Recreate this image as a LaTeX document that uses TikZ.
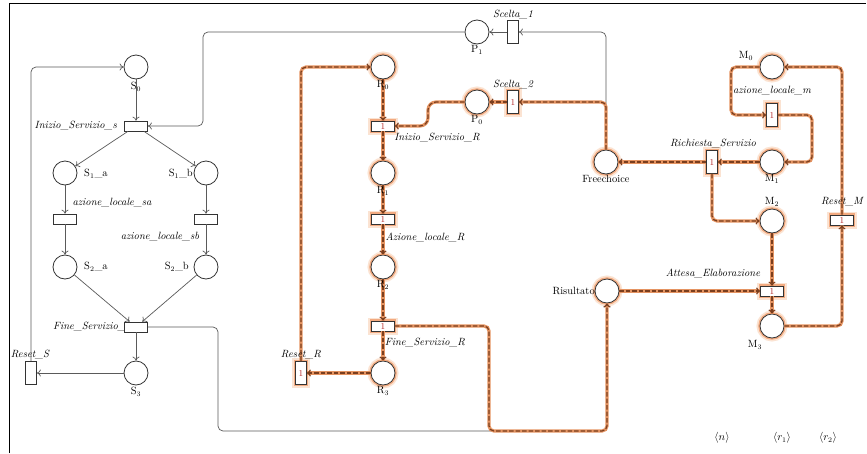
\documentclass[tikz,border=0pt]{standalone}
\usetikzlibrary{arrows.meta}
\definecolor{lineG}{HTML}{5A5A5A}
\definecolor{arcOr}{HTML}{E59462}
\definecolor{arcBr}{HTML}{7A3E1E}
\definecolor{glowA}{HTML}{FBE3D2}
\definecolor{glowB}{HTML}{F2AA80}
\definecolor{tokR}{HTML}{B02020}
\tikzset{
 every node/.style={font=\fontsize{10.5}{12}\selectfont},
 place/.style={circle, draw=black!80, line width=0.8pt, fill=white, minimum size=24pt, inner sep=0pt},
 trans/.style={rectangle, draw=black!80, line width=0.7pt, fill=white, minimum width=23pt, minimum height=10pt, inner sep=0pt, font=\fontsize{9}{9}\selectfont\color{tokR}},
 vtrans/.style={trans, minimum width=11pt, minimum height=23pt},
 hl/.style={preaction={draw=glowA, line width=7pt}, preaction={draw=glowB, line width=3.5pt}},
 arc/.style={draw=lineG, line width=0.7pt, -{To[length=4pt,width=7pt]}, rounded corners=5pt},
 harc/.style={draw=arcBr, line width=1.2pt, dash pattern=on 4.5pt off 2pt, -{To[length=4pt,width=7pt]}, rounded corners=5pt, preaction={draw=arcOr, line width=3.2pt, -, solid}},
 lab/.style={inner sep=1pt},
 tlab/.style={inner sep=1pt, font=\fontsize{10.5}{12}\selectfont\itshape},
}
\begin{document}
\begin{tikzpicture}[x=1pt,y=-1pt]
\fill[white] (0,0) rectangle (867,453);
\useasboundingbox (0,0) rectangle (867,453);
\draw[black, line width=1pt] (9,453) -- (9,3) -- (866,3);

% label hidden partly behind transition
\node[tlab, anchor=west] (lFS) at (52,327) {Fine\_Servizio\_s};

% ---- S cluster ----
\node[place] (S0) at (136,67) {};
\node[trans] (IS) at (136,126) {};
\node[place] (S1a) at (65,173) {};
\node[place] (S1b) at (206,173) {};
\node[trans] (ASa) at (65,219) {};
\node[trans] (ASb) at (206,219) {};
\node[place] (S2a) at (65,267) {};
\node[place] (S2b) at (206,267) {};
\node[trans] (FS) at (136,327) {};
\node[place] (S3) at (136,373) {};
\node[vtrans] (RS) at (31,373) {};

% ---- top ----
\node[place] (P1) at (477,32) {};
\node[vtrans] (Sc1) at (513,32) {};
\node[place, hl] (P0) at (477,102) {};
\node[vtrans, hl] (Sc2) at (513,102) {1};
\node[place, hl] (FC) at (606,162) {};

% ---- R column ----
\node[place, hl] (R0) at (383,67) {};
\node[trans, hl] (IR) at (383,126) {1};
\node[place, hl] (R1) at (383,173) {};
\node[trans, hl] (AR) at (383,219) {1};
\node[place, hl] (R2) at (383,267) {};
\node[trans, hl] (FR) at (383,326) {1};
\node[place, hl] (R3) at (383,373) {};
\node[vtrans, hl] (RR) at (301,373) {1};

% ---- M section ----
\node[place, hl] (Ris) at (607,291) {};
\node[place, hl] (M0) at (772,67) {};
\node[vtrans, hl] (AM) at (772,115) {1};
\node[place, hl] (M1) at (772,162) {};
\node[vtrans, hl] (RQ) at (712,162) {1};
\node[place, hl] (M2) at (772,221) {};
\node[trans, hl] (AE) at (772,291) {1};
\node[place, hl] (M3) at (772,326) {};
\node[trans, hl] (RM) at (842,220) {1};

% ---- helper coordinates ----
\coordinate (c1) at (203,32);
\coordinate (c2) at (218,431);
\coordinate (c3) at (489,431);
\coordinate (k1) at (428,102);
\coordinate (k2) at (428,126);
\coordinate (c4) at (731,115);
\coordinate (c5) at (812,115);

% ---- plain arcs ----
\draw[arc] (S0) -- (IS);
\draw[arc] (IS) -- (S1a);
\draw[arc] (IS) -- (S1b);
\draw[arc] (S1a) -- (ASa);
\draw[arc] (ASa) -- (S2a);
\draw[arc] (S1b) -- (ASb);
\draw[arc] (ASb) -- (S2b);
\draw[arc] (S2a) -- (FS);
\draw[arc] (S2b) -- (FS);
\draw[arc] (FS) -- (S3);
\draw[arc] (S3) -- (RS);
\draw[arc] (RS.north) |- (S0);
\draw[arc] (P1.west) -- (c1) |- (IS.east);
\draw[arc] (FS.east) -| (c2) -| (Ris.south);
\draw[arc] (FC.north) |- (Sc1.east);
\draw[arc] (Sc1) -- (P1);

% ---- highlighted arcs ----
\draw[harc] (FC.north) |- (Sc2.east);
\draw[harc] (Sc2) -- (P0);
\draw[harc, rounded corners=8pt] (P0.west) -- (k1) -- (k2) -- (IR.east);
\draw[harc] (R0) -- (IR);
\draw[harc] (IR) -- (R1);
\draw[harc] (R1) -- (AR);
\draw[harc] (AR) -- (R2);
\draw[harc] (R2) -- (FR);
\draw[harc] (FR) -- (R3);
\draw[harc] (R3) -- (RR);
\draw[harc] (RR.north) |- (R0);
\draw[harc] (FR.east) -| (c3) -| (Ris.south);
\draw[harc] (Ris) -- (AE);
\draw[harc] (M0.west) -| (c4) -- (AM.west);
\draw[harc] (AM.east) -- (c5) |- (M1.east);
\draw[harc] (M1) -- (RQ);
\draw[harc] (RQ) -- (FC);
\draw[harc] (RQ.south) |- (M2.west);
\draw[harc] (M2) -- (AE);
\draw[harc] (AE) -- (M3);
\draw[harc] (M3.east) -| (RM.south);
\draw[harc] (RM.north) |- (M0.east);

% ---- labels ----
\node[lab] (lS0) at (136,87) {S$_0$};
\node[tlab, anchor=east] (lIS) at (118,126) {Inizio\_Servizio\_s};
\node[lab, anchor=west] (lS1a) at (83,174) {S$_1$\_a};
\node[lab, anchor=east] (lS1b) at (194,174) {S$_1$\_b};
\node[tlab] (lASa) at (112,203) {azione\_locale\_sa};
\node[tlab] (lASb) at (160,237) {azione\_locale\_sb};
\node[lab, anchor=west] (lS2a) at (83,267) {S$_2$\_a};
\node[lab, anchor=east] (lS2b) at (190,267) {S$_2$\_b};
\node[tlab] (lRS) at (30,355) {Reset\_S};
\node[lab] (lS3) at (136,392) {S$_3$};
\node[lab] (lP1) at (477,50) {P$_1$};
\node[tlab] (lSc1) at (513,15) {Scelta\_1};
\node[tlab] (lSc2) at (513,85) {Scelta\_2};
\node[lab] (lP0) at (477,120) {P$_0$};
\node[lab] (lR0) at (383,85) {R$_0$};
\node[lab] (lR1) at (383,191) {R$_1$};
\node[lab] (lR2) at (383,285) {R$_2$};
\node[lab] (lR3) at (383,391) {R$_3$};
\node[tlab] (lIR) at (437,138) {Inizio\_Servizio\_R};
\node[tlab] (lAR) at (425,237) {Azione\_locale\_R};
\node[tlab] (lFR) at (425,343) {Fine\_Servizio\_R};
\node[tlab] (lRR) at (301,355) {Reset\_R};
\node[lab] (lFC) at (606,179) {Freechoice};
\node[tlab] (lRQ) at (713,144) {Richiesta\_Servizio};
\node[lab] (lM0) at (746,56) {M$_0$};
\node[tlab] (lAM) at (772,91) {azione\_locale\_m};
\node[lab] (lM1) at (772,179) {M$_1$};
\node[lab] (lM2) at (772,202) {M$_2$};
\node[tlab] (lRM) at (842,202) {Reset\_M};
\node[tlab] (lAE) at (713,273) {Attesa\_Elaborazione};
\node[lab, anchor=east] (lRis) at (596,291) {Risultato};
\node[lab] (lM3) at (755,345) {M$_3$};
\node[lab] (ln) at (722,438) {$\langle n\rangle$};
\node[lab] (lr1) at (782,438) {$\langle r_1\rangle$};
\node[lab] (lr2) at (828,438) {$\langle r_2\rangle$};
\end{tikzpicture}
\end{document}
